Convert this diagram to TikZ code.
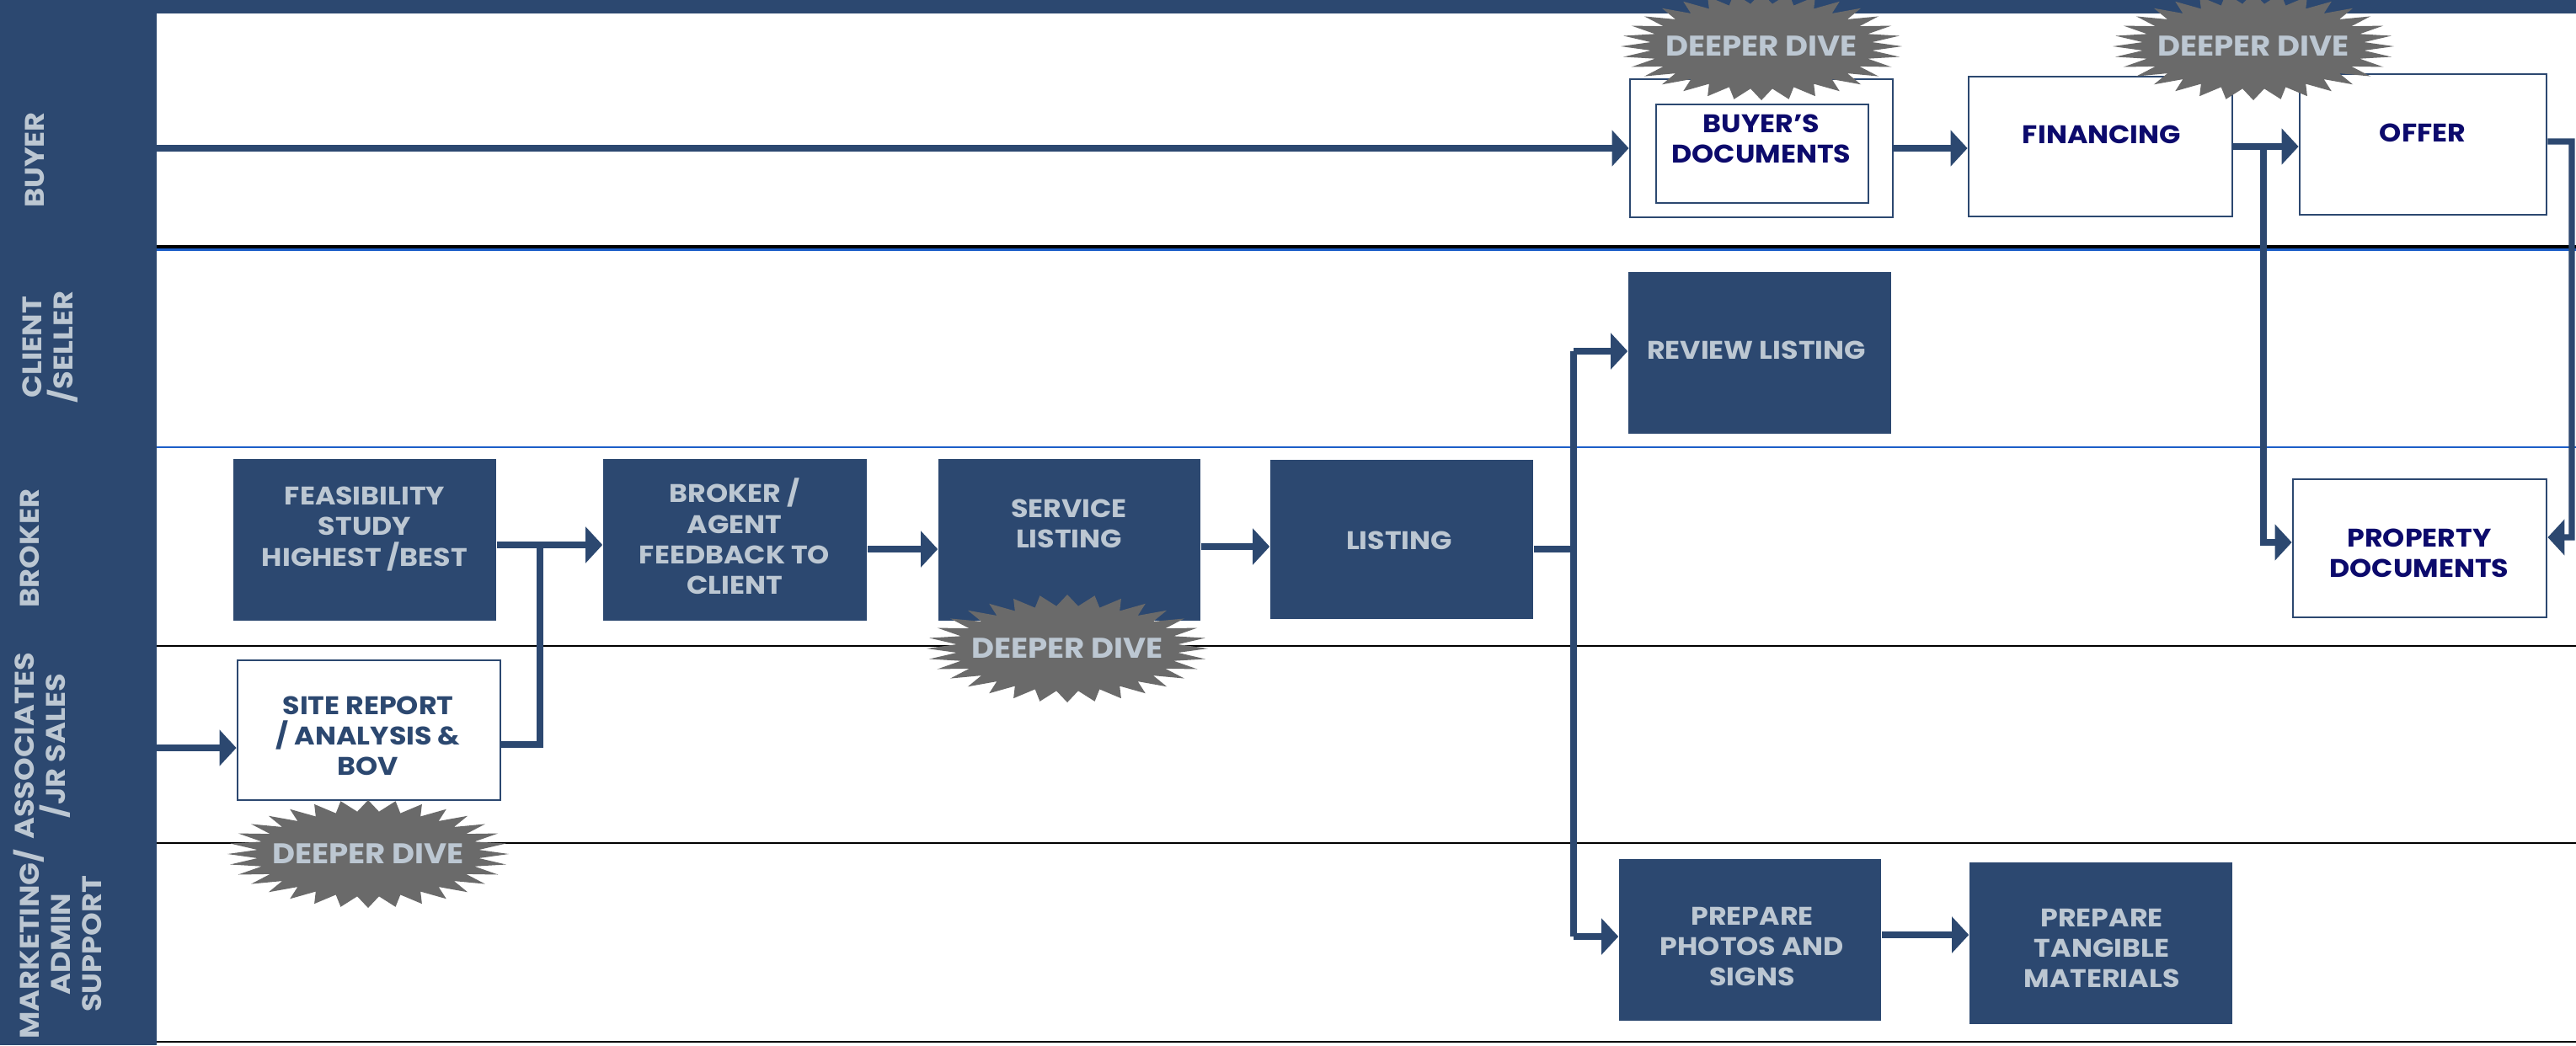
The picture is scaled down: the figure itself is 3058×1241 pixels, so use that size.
\documentclass[tikz,border=0pt]{standalone}
\usepackage{fontspec}
\setmainfont{Poppins}[FakeStretch=1.1]
\usetikzlibrary{arrows.meta,calc}
\definecolor{dblue}{RGB}{44,72,112}
\definecolor{ltxt}{RGB}{188,199,210}
\definecolor{navy}{RGB}{12,10,108}
\definecolor{sgray}{RGB}{106,106,106}
\definecolor{lblue}{RGB}{28,94,200}
\tikzset{
  darkbox/.style={fill=dblue, draw=none, inner sep=0pt},
  whitebox/.style={fill=white, draw=dblue, line width=0.027cm, inner sep=0pt},
  btxt/.style={text=ltxt, font=\bfseries\fontsize{8.6}{10.3}\selectfont, align=center, inner sep=0pt},
  ntxt/.style={btxt, text=navy},
  stxt/.style={btxt, text=dblue},
  ddtxt/.style={text=ltxt, font=\bfseries\fontsize{9.6}{10}\selectfont, inner sep=0pt},
  lane/.style={text=ltxt, font=\bfseries\fontsize{9.1}{10.5}\selectfont, align=center, rotate=90, inner sep=0pt},
  conn/.style={draw=dblue, line width=0.072cm},
  arr/.style={conn, -{Triangle[length=0.2cm,width=0.42cm]}},
}
\newcommand\myburst[2]{%
  \fill[sgray] ({#1+167},{#2})
    \foreach \k [evaluate=\k as \rr using {mod(\k,2)==0 ? 1 : 0.79}] in {1,...,63}
      { -- ({#1+167*\rr*cos(\k*5.625)},{#2+64*\rr*sin(\k*5.625)}) } -- cycle;
}
\begin{document}
\begin{tikzpicture}[x=0.01cm,y=-0.01cm]
\useasboundingbox (0,0) rectangle (3058,1241);
\fill[white] (0,0) rectangle (3058,1241);
% band and top bar
\fill[dblue] (0,0) rectangle (186,1241);
\fill[dblue] (0,0) rectangle (3058,16);
% lane separators
\draw[black, line width=0.035cm] (186,293) -- (3058,293);
\draw[lblue, line width=0.022cm] (186,296.5) -- (3058,296.5);
\draw[lblue, line width=0.022cm] (186,531) -- (3058,531);
\draw[black, line width=0.022cm] (186,767) -- (3058,767);
\draw[black, line width=0.022cm] (186,1001) -- (3058,1001);
\draw[black, line width=0.022cm] (186,1237) -- (3058,1237);
% lane labels
\node[lane] (lbuyer) at (41,190) {BUYER};
\node[lane] (lclient) at (60,412) {CLIENT\\/SELLER};
\node[lane] (lbroker) at (35,651) {BROKER};
\node[lane] (lassoc) at (51,886) {ASSOCIATES\\/JR SALES};
\node[lane] (lmkt) at (68,1121) {MARKETING/\\ADMIN\\SUPPORT};
% boxes
\node[darkbox, minimum width=3.12cm, minimum height=1.92cm] (feas) at (433,641) {};
\node[btxt] (feasT) at (433,628) {FEASIBILITY\\STUDY\\HIGHEST /BEST};
\node[darkbox, minimum width=3.13cm, minimum height=1.92cm] (broker) at (872.5,641) {};
\node[btxt] (brokerT) at (872,637) {BROKER /\\AGENT\\FEEDBACK TO\\CLIENT};
\node[darkbox, minimum width=3.11cm, minimum height=1.92cm] (service) at (1269.5,641) {};
\node[btxt] (serviceT) at (1269,622) {SERVICE\\LISTING};
\node[darkbox, minimum width=3.12cm, minimum height=1.89cm] (listing) at (1664,640.5) {};
\node[btxt] (listingT) at (1661,641.5) {LISTING};
\node[whitebox, minimum width=3.12cm, minimum height=1.66cm] (site) at (438,867) {};
\node[stxt] (siteT) at (437,874) {SITE REPORT\\/ ANALYSIS \&\\BOV};
\node[darkbox, minimum width=3.12cm, minimum height=1.92cm] (review) at (2089,419) {};
\node[btxt] (reviewT) at (2085,416) {REVIEW LISTING};
\node[darkbox, minimum width=3.11cm, minimum height=1.92cm] (photos) at (2077.5,1116) {};
\node[btxt] (photosT) at (2080,1124) {PREPARE\\PHOTOS AND\\SIGNS};
\node[darkbox, minimum width=3.12cm, minimum height=1.92cm] (tang) at (2494,1120) {};
\node[btxt] (tangT) at (2495,1126) {PREPARE\\TANGIBLE\\MATERIALS};
\node[whitebox, minimum width=3.12cm, minimum height=1.64cm] (bdocs) at (2091,176) {};
\node[whitebox, minimum width=2.52cm, minimum height=1.17cm] (bdocsin) at (2092,182.5) {};
\node[ntxt] (bdocsT) at (2091,165) {BUYER’S\\DOCUMENTS};
\node[whitebox, minimum width=3.13cm, minimum height=1.66cm] (fin) at (2493.5,174) {};
\node[ntxt] (finT) at (2495,160) {FINANCING};
\node[whitebox, minimum width=2.93cm, minimum height=1.67cm] (offer) at (2876.5,171.5) {};
\node[ntxt] (offerT) at (2876,158) {OFFER};
\node[whitebox, minimum width=3.01cm, minimum height=1.64cm] (pdocs) at (2872.5,651) {};
\node[ntxt] (pdocsT) at (2872,657) {PROPERTY\\DOCUMENTS};
% coordinates
\coordinate (bstart) at (186,176);
\coordinate (astart) at (186,888);
\coordinate (j1) at (2687,176);
\coordinate (jr) at (3053,168);
\coordinate (j2) at (641,884);
\coordinate (j2top) at (641,647);
\coordinate (j3) at (1868,652);
\coordinate (j3top) at (1868,417);
\coordinate (j3bot) at (1868,1112);
\coordinate (c4) at (1100,652);
\coordinate (c5) at (1480,649);
\coordinate (c6) at (2290,1110);
% connectors
\draw[arr] (bstart) -- (bstart -| bdocs.west);
\draw[arr] (bdocs.east) -- (bdocs.east -| fin.west);
\draw[arr] (fin.east) -- (fin.east -| offer.west);
\draw[arr] (j1) |- ([yshift=0.07cm]pdocs.west);
\draw[arr] ([yshift=0.035cm]offer.east) -- (jr) |- ([yshift=0.13cm]pdocs.east);
\draw[arr] (j2top -| feas.east) -- (j2top -| broker.west);
\draw[conn] (j2 -| site.east) -- (j2) -- (j2top);
\draw[arr] (astart) -- (astart -| site.west);
\draw[arr] (c4 -| broker.east) -- (c4 -| service.west);
\draw[arr] (c5 -| service.east) -- (c5 -| listing.west);
\draw[conn] (j3 -| listing.east) -- (j3);
\draw[conn] (j3top) -- (j3bot);
\draw[arr] (j3top) -- (j3top -| review.west);
\draw[arr] (j3bot) -- (j3bot -| photos.west);
\draw[arr] (c6 -| photos.east) -- (c6 -| tang.west);
% deeper dive bursts
\myburst{2091}{55}
\node[ddtxt] (dd1) at (2091,55) {DEEPER DIVE};
\myburst{2675}{55}
\node[ddtxt] (dd2) at (2675,55) {DEEPER DIVE};
\myburst{1267}{770}
\node[ddtxt] (dd3) at (1267,770) {DEEPER DIVE};
\myburst{437}{1014}
\node[ddtxt] (dd4) at (437,1014) {DEEPER DIVE};
\end{tikzpicture}
\end{document}
